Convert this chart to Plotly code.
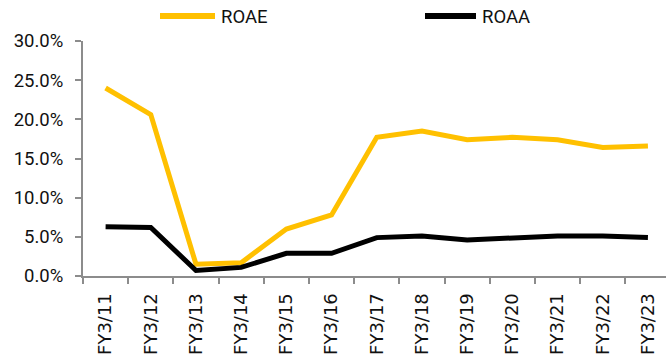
import plotly.graph_objects as go

categories = ["FY3/11", "FY3/12", "FY3/13", "FY3/14", "FY3/15", "FY3/16", "FY3/17",
              "FY3/18", "FY3/19", "FY3/20", "FY3/21", "FY3/22", "FY3/23"]
roae = [0.240, 0.206, 0.015, 0.017, 0.060, 0.078, 0.177, 0.185, 0.174, 0.177, 0.174, 0.164, 0.166]
roaa = [0.063, 0.062, 0.007, 0.011, 0.029, 0.029, 0.049, 0.051, 0.046, 0.048, 0.051, 0.051, 0.049]
series_names = ["ROAE", "ROAA"]
colors = ["#FFC000", "#000000"]

FONT_Y = "Roboto"
FONT_X = "DejaVu Sans"
TXT = "#111111"

fig = go.Figure()
for name, vals, col in zip(series_names, [roae, roaa], colors):
    fig.add_trace(go.Scatter(x=categories, y=vals, mode="lines", name=name,
                             line=dict(color=col, width=5), showlegend=False))

W, H = 666, 360
L, R, T, B = 83, 0, 41, 84
pw, ph = W - L - R, H - T - B

def px(x):
    return (x - L) / pw

def py(y):
    return (H - B - y) / ph

# manual legend
leg = [(160, 215, 219), (425, 476, 480)]
for (x0, x1, xt), name, col in zip(leg, series_names, colors):
    fig.add_shape(type="line", xref="paper", yref="paper", x0=px(x0), x1=px(x1),
                  y0=py(16), y1=py(16), line=dict(color=col, width=6))
    fig.add_annotation(xref="paper", yref="paper", x=px(xt), y=py(17), text=name,
                       showarrow=False, xanchor="left", yanchor="middle",
                       font=dict(family=FONT_Y, size=18.5, color=TXT))

fig.update_layout(
    width=W, height=H,
    margin=dict(l=L, r=R, t=T, b=B),
    plot_bgcolor="white", paper_bgcolor="white",
    font=dict(family=FONT_Y, size=16, color=TXT),
)
fig.update_xaxes(
    type="category", range=[-0.5, 12.4], tickangle=-90,
    showline=True, linecolor="#8c8c8c", linewidth=2,
    ticks="outside", tickson="boundaries", ticklen=6, tickcolor="#8c8c8c", tickwidth=2,
    showgrid=False, tickfont=dict(family=FONT_X, size=18, color=TXT),
    ticklabelstandoff=8,
)
fig.update_yaxes(
    range=[0, 0.30], dtick=0.05, tickformat=".1%",
    showline=True, linecolor="#8c8c8c", linewidth=2,
    ticks="outside", ticklen=6, tickcolor="#8c8c8c", tickwidth=2,
    showgrid=False, zeroline=False, tickfont=dict(family=FONT_Y, size=18.5, color=TXT),
    ticklabelstandoff=8,
)

fig.write_html("out.html")
